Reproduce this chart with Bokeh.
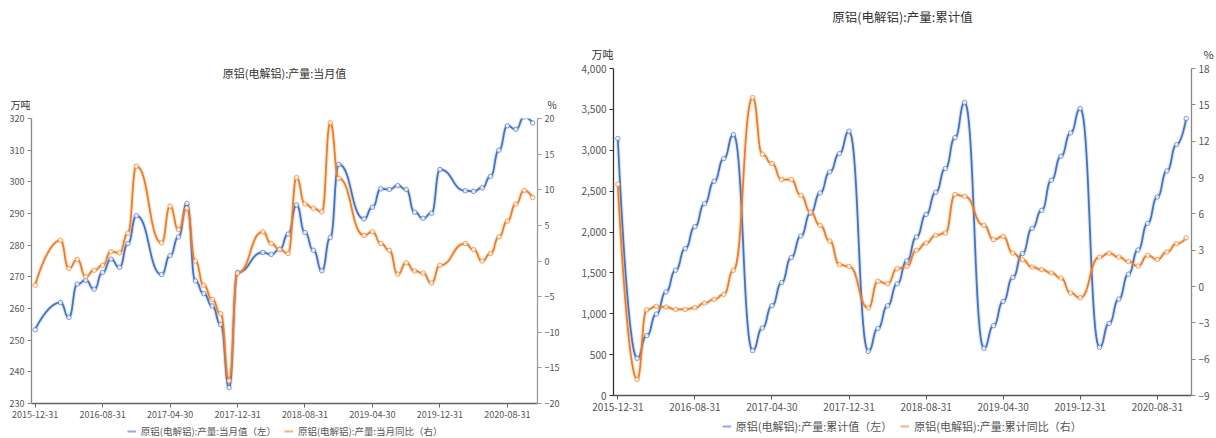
import numpy as np
from bokeh.plotting import figure
from bokeh.models import (Range1d, LinearAxis, FixedTicker, Legend,
                          LegendItem, NumeralTickFormatter)
from bokeh.layouts import row, column
from bokeh.core.properties import value
from bokeh.embed import file_html
from bokeh.resources import INLINE

FONT = "Noto Sans CJK SC"
BLUE = "#4472C4"
ORANGE = "#F47A20"

# ---------------------------------------------------------------- data
tick_dates = ["2015-12-31", "2016-08-31", "2017-04-30", "2017-12-31",
              "2018-08-31", "2019-04-30", "2019-12-31", "2020-08-31"]

# 当月值 / 当月同比 (Jan and Feb are not published separately)
monthly_dates = [
    "2015-12",
    "2016-03", "2016-04", "2016-05", "2016-06", "2016-07", "2016-08", "2016-09", "2016-10", "2016-11", "2016-12",
    "2017-03", "2017-04", "2017-05", "2017-06", "2017-07", "2017-08", "2017-09", "2017-10", "2017-11", "2017-12",
    "2018-03", "2018-04", "2018-05", "2018-06", "2018-07", "2018-08", "2018-09", "2018-10", "2018-11", "2018-12",
    "2019-03", "2019-04", "2019-05", "2019-06", "2019-07", "2019-08", "2019-09", "2019-10", "2019-11", "2019-12",
    "2020-03", "2020-04", "2020-05", "2020-06", "2020-07", "2020-08", "2020-09", "2020-10", "2020-11",
]
monthly_output = [
    253.3,
    261.9, 257.2, 267.7, 268.9, 266.1, 271.4, 275.6, 273.0, 280.5, 289.3,
    270.7, 276.7, 282.6, 293.2, 268.7, 264.7, 260.8, 255.0, 235.0, 271.4,
    277.7, 277.1, 278.7, 283.5, 292.7, 284.0, 278.4, 271.9, 282.4, 305.5,
    288.3, 292.0, 297.8, 297.6, 298.8, 297.6, 290.4, 288.5, 290.1, 303.9,
    297.2, 297.0, 298.1, 301.7, 310.0, 317.7, 316.6, 320.5, 318.6,
]
monthly_yoy = [
    -3.4,
    2.9, -1.05, 0.2, -2.2, -1.3, -0.6, 1.3, 1.15, 3.9, 13.3,
    2.55, 7.7, 4.4, 7.4, 0.0, -3.4, -5.4, -7.4, -16.8, -1.7,
    4.1, 2.45, 1.6, 1.05, 11.7, 8.0, 7.4, 6.9, 19.4, 11.6,
    3.6, 4.1, 2.45, 1.5, -1.85, -0.25, -1.4, -1.7, -3.1, -0.6,
    2.45, 1.6, 0.0, 1.05, 3.4, 5.6, 8.0, 9.9, 8.9,
]

# 累计值 / 累计同比 (first reading of each year is Jan-Feb)
cum_dates = [
    "2015-12",
    "2016-02", "2016-03", "2016-04", "2016-05", "2016-06", "2016-07", "2016-08", "2016-09", "2016-10", "2016-11", "2016-12",
    "2017-02", "2017-03", "2017-04", "2017-05", "2017-06", "2017-07", "2017-08", "2017-09", "2017-10", "2017-11", "2017-12",
    "2018-02", "2018-03", "2018-04", "2018-05", "2018-06", "2018-07", "2018-08", "2018-09", "2018-10", "2018-11", "2018-12",
    "2019-02", "2019-03", "2019-04", "2019-05", "2019-06", "2019-07", "2019-08", "2019-09", "2019-10", "2019-11", "2019-12",
    "2020-02", "2020-03", "2020-04", "2020-05", "2020-06", "2020-07", "2020-08", "2020-09", "2020-10", "2020-11",
]
cum_output = [
    3143,
    455, 732, 996, 1268, 1533, 1797, 2065, 2347, 2620, 2898, 3192,
    549, 825, 1098, 1382, 1687, 1951, 2230, 2478, 2735, 2959, 3233,
    541, 821, 1098, 1366, 1646, 1939, 2215, 2485, 2776, 3155, 3584,
    577, 854, 1150, 1443, 1736, 2045, 2265, 2633, 2927, 3212, 3510,
    589, 882, 1179, 1484, 1780, 2106, 2429, 2747, 3069, 3388,
]
cum_yoy = [
    8.44,
    -7.67, -1.92, -1.64, -1.70, -1.89, -1.89, -1.75, -1.37, -1.06, -0.65, 1.34,
    15.6, 10.92, 10.15, 8.83, 8.83, 7.53, 6.15, 5.05, 3.76, 1.80, 1.66,
    -1.78, 0.43, 0.23, 1.47, 1.66, 2.99, 3.59, 4.22, 4.42, 7.59, 7.45,
    5.05, 3.87, 4.14, 2.76, 2.21, 1.61, 1.39, 1.12, 0.70, -0.54, -0.93,
    2.43, 2.76, 2.43, 2.07, 1.69, 2.57, 2.24, 2.85, 3.53, 4.02,
]

left_ticks_1 = [230, 240, 250, 260, 270, 280, 290, 300, 310, 320]
right_ticks_1 = [-20, -15, -10, -5, 0, 5, 10, 15, 20]
left_ticks_2 = [0, 500, 1000, 1500, 2000, 2500, 3000, 3500, 4000]
right_ticks_2 = [-9, -6, -3, 0, 3, 6, 9, 12, 15, 18]


def month_index(s):
    y, m = int(s[:4]), int(s[5:7])
    return (y - 2015) * 12 + m - 12


def smooth_curve(xs, ys, smooth=0.5, n=24):
    """Cubic Bezier path with flat (x-monotone) tangents at every point."""
    t = np.linspace(0, 1, n)[1:]
    a, b, c, d = (1 - t) ** 3, 3 * (1 - t) ** 2 * t, 3 * (1 - t) * t ** 2, t ** 3
    out_x, out_y = [xs[0]], [ys[0]]
    last = len(xs) - 1
    for i in range(1, len(xs)):
        x0, y0, x1, y1 = xs[i - 1], ys[i - 1], xs[i], ys[i]
        dx = x1 - x0
        c0x = x0 if i == 1 else x0 + dx * smooth
        c1x = x1 if i == last else x1 - dx * smooth
        out_x.extend(a * x0 + b * c0x + c * c1x + d * x1)
        out_y.extend(a * y0 + b * y0 + c * y1 + d * y1)
    return np.array(out_x), np.array(out_y)


def style_axis(ax, color, size):
    ax.axis_line_color = color
    ax.axis_line_width = 1.3
    ax.major_tick_line_color = color
    ax.major_tick_line_width = 1
    ax.major_tick_out = 4
    ax.major_tick_in = 0
    ax.minor_tick_line_color = None
    ax.major_label_text_font = FONT
    ax.major_label_text_font_size = size
    ax.major_label_text_color = "#555555"
    ax.major_label_standoff = 3


def draw_series(p, xs, ys, color, y_range_name="default"):
    cx, cy = smooth_curve(xs, ys)
    p.line(cx, cy, line_color=color, line_width=4, line_alpha=0.18,
           y_range_name=y_range_name)
    p.line(cx, cy, line_color=color, line_width=1.8,
           y_range_name=y_range_name)
    p.scatter(xs, ys, marker="circle", size=4.5, fill_color="white",
              fill_alpha=0.8, line_color=color, line_width=1,
              line_alpha=0.7, y_range_name=y_range_name)


def strip(width, height, frame_w):
    """Plain strip above / below a chart; its frame lines up with the chart's."""
    p = figure(width=width, height=height, output_backend="svg",
               toolbar_location=None, x_axis_type=None, y_axis_type=None,
               x_range=Range1d(0, frame_w), y_range=Range1d(0, height),
               min_border=0, min_border_left=0, min_border_right=0,
               min_border_top=0, min_border_bottom=0)
    p.outline_line_color = None
    p.xgrid.grid_line_color = None
    p.ygrid.grid_line_color = None
    return p


def unit_axis(p, side, text, at, size, standoff):
    """Unit caption sitting at the top end of a value axis."""
    ax = LinearAxis(ticker=FixedTicker(ticks=[at]),
                    major_label_overrides={at: text})
    ax.axis_line_color = None
    ax.major_tick_line_color = None
    ax.minor_tick_line_color = None
    ax.major_tick_out = 0
    ax.major_tick_in = 0
    ax.major_label_standoff = standoff
    ax.major_label_text_font = FONT
    ax.major_label_text_font_size = size
    ax.major_label_text_color = "#333333"
    p.add_layout(ax, side)


def build(width, head_h, foot_h, fw, fh, border, x_pad, y_rng, y2_rng, yt,
          y2t, fmt, dates, s1, s2, names, title, tick_size, title_size,
          unit_size, legend_size, title_y, unit_y, unit_standoff, legend_loc,
          axis_colors):
    left, right, top, bottom = border

    # title strip with the axis units
    head = strip(width, head_h, fw)
    head.text(x=[fw / 2], y=[title_y], text=[title], text_font=value(FONT),
              text_font_size=value(title_size), text_align="center",
              text_baseline="middle", text_color="#333333")
    unit_axis(head, "left", "万吨", unit_y, unit_size, unit_standoff[0])
    unit_axis(head, "right", "%", unit_y, unit_size, unit_standoff[1])

    # main chart
    x0, x1 = -x_pad, 60 - x_pad
    p = figure(width=width, height=top + fh + bottom, output_backend="svg",
               toolbar_location=None,
               x_range=Range1d(x0, x1), y_range=Range1d(*y_rng),
               min_border_left=left, min_border_right=right,
               min_border_top=top, min_border_bottom=bottom)
    p.outline_line_color = None
    p.xgrid.grid_line_color = None
    p.ygrid.grid_line_color = None
    p.extra_y_ranges = {"pct": Range1d(*y2_rng)}
    p.add_layout(LinearAxis(y_range_name="pct"), "right")

    xticks = [month_index(d) for d in tick_dates]
    p.xaxis.ticker = FixedTicker(ticks=xticks)
    p.xaxis.major_label_overrides = {t: d for t, d in zip(xticks, tick_dates)}
    p.yaxis[0].ticker = FixedTicker(ticks=yt)
    p.yaxis[1].ticker = FixedTicker(ticks=y2t)
    if fmt:
        p.yaxis[0].formatter = NumeralTickFormatter(format=fmt)
    style_axis(p.xaxis[0], axis_colors[0], tick_size)
    style_axis(p.yaxis[0], axis_colors[1], tick_size)
    style_axis(p.yaxis[1], axis_colors[2], tick_size)

    xs = [month_index(d) for d in dates]
    draw_series(p, xs, s1, BLUE)
    draw_series(p, xs, s2, ORANGE, "pct")

    # legend strip
    foot = strip(width, foot_h, fw)
    k1 = foot.line([-20, -10], [-20, -20], line_color=BLUE, line_width=2,
                   line_alpha=0.6)
    k2 = foot.line([-20, -10], [-20, -20], line_color=ORANGE, line_width=2,
                   line_alpha=0.6)
    legend = Legend(items=[LegendItem(label=names[0], renderers=[k1]),
                           LegendItem(label=names[1], renderers=[k2])],
                    orientation="horizontal", location=legend_loc,
                    glyph_width=9, glyph_height=12, label_height=12,
                    label_standoff=5, spacing=8, padding=0, margin=0,
                    border_line_color=None, background_fill_alpha=0,
                    label_text_font=FONT, label_text_font_size=legend_size,
                    label_text_color="#555555")
    foot.add_layout(legend, "center")
    return column(head, p, foot)


left_chart = build(572, 112, 14, 506, 285, (31, 35, 6, 21), 0.43,
                   (230, 320), (-20, 20), left_ticks_1, right_ticks_1, None,
                   monthly_dates, monthly_output, monthly_yoy,
                   ["原铝(电解铝):产量:当月值（左）", "原铝(电解铝):产量:当月同比（右）"],
                   "原铝(电解铝):产量:当月值", "9px", "11px", "10px", "9.5px",
                   40, 7, (1, 10), (95.7, 0),
                   ("#666666", "#888888", "#999999"))

right_chart = build(644, 62, 20, 578, 327, (41, 25, 6, 23), 0.45,
                    (0, 4000), (-9, 18), left_ticks_2, right_ticks_2, "0,0",
                    cum_dates, cum_output, cum_yoy,
                    ["原铝(电解铝):产量:累计值（左）", "原铝(电解铝):产量:累计同比（右）"],
                    "原铝(电解铝):产量:累计值", "10px", "12.5px", "11px", "11px",
                    46, 7, (0, 12), (108.7, 4),
                    ("#555555", "#333333", "#888888"))

layout = row(left_chart, right_chart)
open("out.html", "w").write(file_html(layout, INLINE))
